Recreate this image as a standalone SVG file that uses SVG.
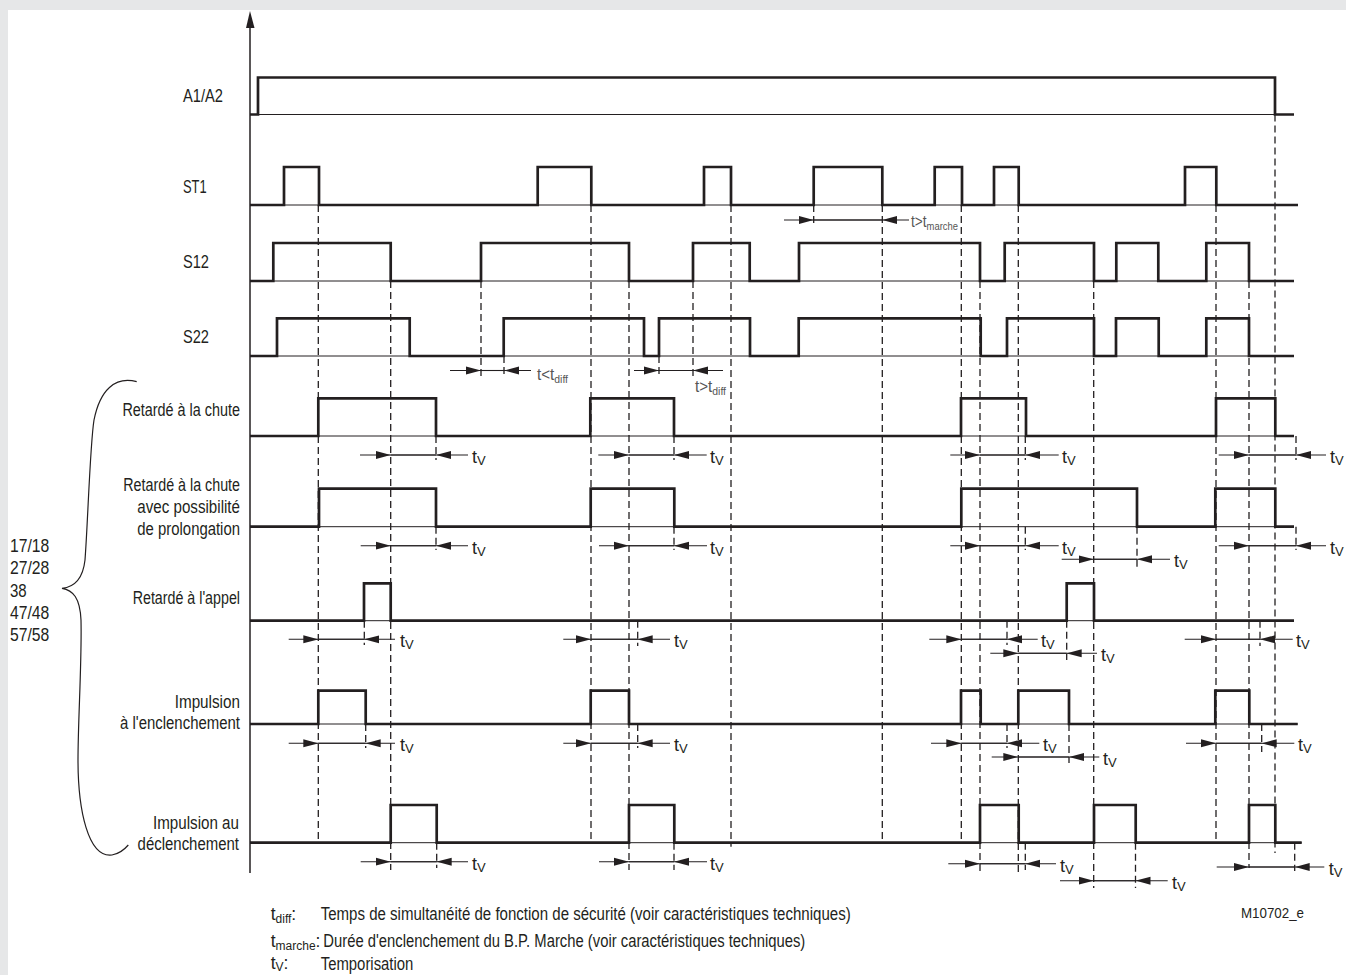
<svg xmlns="http://www.w3.org/2000/svg" width="1346" height="975" viewBox="0 0 1346 975">
<style>
.sig{fill:none;stroke:#231f20;stroke-width:2.7;stroke-linejoin:miter}
.base{fill:none;stroke:#231f20;stroke-width:1}
.dash{fill:none;stroke:#231f20;stroke-width:1.3;stroke-dasharray:7 4}
.dim{fill:none;stroke:#231f20;stroke-width:1.1}
.tip{fill:none;stroke:#231f20;stroke-width:1.1;marker-start:url(#ah);marker-end:url(#ah)}
.lbl{font-family:"Liberation Sans Narrow","Liberation Sans",Arial,sans-serif;font-size:17.5px;fill:#231f20}
.tv{font-family:"Liberation Sans",Arial,sans-serif;font-size:18px;fill:#231f20}
.tvs{font-size:13px}
.cond{font-family:"Liberation Sans Narrow","Liberation Sans",Arial,sans-serif;font-size:16px;fill:#555}
.csub{font-size:11px}
.leg{font-family:"Liberation Sans Narrow","Liberation Sans",Arial,sans-serif;font-size:17.5px;fill:#231f20}
.lsub{font-size:12px}
</style>
<defs>
<marker id="ah" viewBox="0 0 15 9" refX="0" refY="4.5" markerWidth="15" markerHeight="9" markerUnits="userSpaceOnUse" orient="auto-start-reverse"><path d="M0,4.5 L15,0.5 L15,8.5 z" fill="#231f20"/></marker>
</defs>
<rect x="0" y="0" width="1346" height="975" fill="#e6e7e8"/>
<rect x="8" y="10" width="1338" height="965" fill="#ffffff"/>

<g id="axis">
<line x1="250" y1="26" x2="250" y2="873" stroke="#231f20" stroke-width="1.5"/>
<polygon points="250,11 246,28 254.5,28" fill="#231f20"/>
</g>

<g id="row-A1A2">
<text class="lbl" x="183" y="102" textLength="40" lengthAdjust="spacingAndGlyphs">A1/A2</text>
<path class="base" d="M250,114.5 H1294"/>
<path class="sig" d="M250,114.5 H258 V77.5 H1275 V114.5 H1294"/>
</g>

<g id="row-ST1">
<text class="lbl" x="183" y="193" textLength="23.7" lengthAdjust="spacingAndGlyphs">ST1</text>
<path class="base" d="M250,205 H1298"/>
<path class="sig" d="M250,205 H284 V167 H319 V205 H537.7 V167 H591.3 V205 H704 V167 H731 V205 H813.7 V167 H882.3 V205 H934.7 V167 H962 V205 H994 V167 H1018.7 V205 H1185 V167 H1216.3 V205 H1298"/>
</g>

<g id="row-S12">
<text class="lbl" x="183" y="268" textLength="26" lengthAdjust="spacingAndGlyphs">S12</text>
<path class="base" d="M250,281 H1294"/>
<path class="sig" d="M250,281 H273.3 V243 H390.7 V281 H481 V243 H629 V281 H693 V243 H749.7 V281 H799 V243 H980 V281 H1004.7 V243 H1094 V281 H1116.3 V243 H1158.3 V281 H1206.3 V243 H1249 V281 H1294"/>
</g>

<g id="row-S22">
<text class="lbl" x="183" y="343" textLength="26" lengthAdjust="spacingAndGlyphs">S22</text>
<path class="base" d="M250,356 H1294"/>
<path class="sig" d="M250,356 H277 V318.3 H409.7 V356 H503.7 V318.3 H644 V356 H659 V318.3 H750 V356 H798.7 V318.3 H980.7 V356 H1007 V318.3 H1094 V356 H1116 V318.3 H1158.7 V356 H1206.3 V318.3 H1249 V356 H1294"/>
</g>

<g id="row-retarde-chute">
<text class="lbl" x="240" y="416" text-anchor="end" textLength="117.6" lengthAdjust="spacingAndGlyphs">Retardé à la chute</text>
<path class="base" d="M250,436 H1294"/>
<path class="sig" d="M250,436 H318.3 V398.3 H436 V436 H590.3 V398.3 H674 V436 H961 V398.3 H1026 V436 H1216 V398.3 H1275.3 V436 H1294"/>
</g>

<g id="row-retarde-prolongation">
<text class="lbl" x="240" y="490.7" text-anchor="end" textLength="116.7" lengthAdjust="spacingAndGlyphs">Retardé à la chute</text>
<text class="lbl" x="240" y="513.3" text-anchor="end" textLength="102.7" lengthAdjust="spacingAndGlyphs">avec possibilité</text>
<text class="lbl" x="240" y="534.5" text-anchor="end" textLength="102.7" lengthAdjust="spacingAndGlyphs">de prolongation</text>
<path class="base" d="M250,526.7 H1294"/>
<path class="sig" d="M250,526.7 H319 V488.7 H436 V526.7 H590.7 V488.7 H674.3 V526.7 H961.3 V488.7 H1137 V526.7 H1215.3 V488.7 H1275.3 V526.7 H1294"/>
</g>

<g id="row-retarde-appel">
<text class="lbl" x="240" y="604" text-anchor="end" textLength="107.3" lengthAdjust="spacingAndGlyphs">Retardé à l'appel</text>
<path class="base" d="M250,620.7 H1294"/>
<path class="sig" d="M250,620.7 H364 V583.3 H390.7 V620.7 H1066.7 V583.3 H1094 V620.7 H1294"/>
</g>

<g id="row-impulsion-enclenchement">
<text class="lbl" x="240" y="708.3" text-anchor="end" textLength="65.3" lengthAdjust="spacingAndGlyphs">Impulsion</text>
<text class="lbl" x="240" y="729.3" text-anchor="end" textLength="120" lengthAdjust="spacingAndGlyphs">à l'enclenchement</text>
<path class="base" d="M250,724 H1297.7"/>
<path class="sig" d="M250,724 H318.3 V690.7 H365.7 V724 H590.7 V690.7 H629 V724 H961 V690.7 H980.7 V724 H1018.3 V690.7 H1069 V724 H1215.3 V690.7 H1249.3 V724 H1297.7"/>
</g>

<g id="row-impulsion-declenchement">
<text class="lbl" x="239" y="829.3" text-anchor="end" textLength="86" lengthAdjust="spacingAndGlyphs">Impulsion au</text>
<text class="lbl" x="239" y="850" text-anchor="end" textLength="101.4" lengthAdjust="spacingAndGlyphs">déclenchement</text>
<path class="base" d="M250,842.7 H1301.7"/>
<path class="sig" d="M250,842.7 H390.7 V805 H436.7 V842.7 H629 V805 H674.3 V842.7 H980 V805 H1018.7 V842.7 H1094 V805 H1135.7 V842.7 H1249 V805 H1275.3 V842.7 H1301.7"/>
</g>

<g id="brace-contacts">
<path d="M136.7,381.7 C115,376 100,390 94,420 C90,445 88,520 85,560 C83,578 75,587 62,588.3 C73,590 80,598 81,620 C82,660 78,720 78,760 C78,810 88,858 112,855 C118,854 124,850 128.3,845" fill="none" stroke="#231f20" stroke-width="1.2"/>
<text class="lbl" x="10" y="551.7" textLength="39.3" lengthAdjust="spacingAndGlyphs">17/18</text>
<text class="lbl" x="10" y="574" textLength="39.3" lengthAdjust="spacingAndGlyphs">27/28</text>
<text class="lbl" x="10" y="596.7" textLength="16.7" lengthAdjust="spacingAndGlyphs">38</text>
<text class="lbl" x="10" y="618.7" textLength="39.3" lengthAdjust="spacingAndGlyphs">47/48</text>
<text class="lbl" x="10" y="641" textLength="39.3" lengthAdjust="spacingAndGlyphs">57/58</text>
</g>

<g id="connectors">
<path class="dash" d="M318.3,205 V842.7 M390.7,281 V870 M481,281 V378 M504,356 V378 M591,205 V842.7 M629,281 V870 M659,356 V378 M693,281 V380 M731,205 V846.7 M813.7,205 V227 M882.3,205 V842.7 M961.3,205 V842.7 M980,281 V872 M1018.3,205 V872 M1093.7,281 V888 M1216,205 V842.7 M1249,281 V868 M1275,114.5 V853"/>
<path class="dash" d="M436,436 V460 M436,526.7 V550 M436.7,842.7 V868 M674,436 V460 M674,526.7 V550 M674,842.7 V870 M364.3,620.7 V645 M365.7,724 V748 M637.7,620.7 V646 M637.7,724 V748 M1025.3,436 V460 M1025.3,526.7 V550 M1025.3,842.7 V870 M1007,620.7 V645 M1007,724 V748 M1066.7,620.7 V660 M1069,724 V763 M1137,526.7 V568 M1135.5,842.7 V888 M1296,436 V460 M1296,526.7 V550 M1260,620.7 V646 M1261.7,724 V752 M1294.7,842.7 V871"/>

<path class="dim" d="M450,370.5 H531"/><path class="tip" d="M481,370.5 H504"/>
<text class="cond" x="537" y="380" textLength="31" lengthAdjust="spacingAndGlyphs">t&lt;t<tspan class="csub" dy="3">diff</tspan></text>
<path class="dim" d="M634,370.5 H723"/><path class="tip" d="M659,370.5 H693"/>
<text class="cond" x="695" y="391.5" textLength="31" lengthAdjust="spacingAndGlyphs">t&gt;t<tspan class="csub" dy="3">diff</tspan></text>
<path class="dim" d="M784,220 H909"/><path class="tip" d="M813.7,220 H882.3"/>
<text class="cond" x="911" y="227" textLength="47" lengthAdjust="spacingAndGlyphs">t&gt;t<tspan class="csub" dy="3">marche</tspan></text>

<path class="dim" d="M360,455 H468"/><path class="tip" d="M390.7,455 H436"/>
<text class="tv" x="472" y="463">t<tspan class="tvs" dy="2">V</tspan></text>
<path class="dim" d="M598.3,455 H706.7"/><path class="tip" d="M629,455 H674"/>
<text class="tv" x="710" y="463">t<tspan class="tvs" dy="2">V</tspan></text>
<path class="dim" d="M950.3,455 H1058.7"/><path class="tip" d="M980,455 H1025.3"/>
<text class="tv" x="1062" y="463">t<tspan class="tvs" dy="2">V</tspan></text>
<path class="dim" d="M1218.7,455 H1326"/><path class="tip" d="M1249,455 H1296"/>
<text class="tv" x="1330" y="463">t<tspan class="tvs" dy="2">V</tspan></text>

<path class="dim" d="M360.7,545.7 H468"/><path class="tip" d="M390.7,545.7 H436"/>
<text class="tv" x="472" y="553.7">t<tspan class="tvs" dy="2">V</tspan></text>
<path class="dim" d="M599,545.7 H707"/><path class="tip" d="M629,545.7 H674"/>
<text class="tv" x="710" y="553.7">t<tspan class="tvs" dy="2">V</tspan></text>
<path class="dim" d="M950.3,545.7 H1058.7"/><path class="tip" d="M980,545.7 H1025.3"/>
<text class="tv" x="1062" y="553.7">t<tspan class="tvs" dy="2">V</tspan></text>
<path class="dim" d="M1061.7,559.3 H1170"/><path class="tip" d="M1093.7,559.3 H1137"/>
<text class="tv" x="1174" y="567.3">t<tspan class="tvs" dy="2">V</tspan></text>
<path class="dim" d="M1218.7,545.7 H1326"/><path class="tip" d="M1249,545.7 H1296"/>
<text class="tv" x="1330" y="553.7">t<tspan class="tvs" dy="2">V</tspan></text>

<path class="dim" d="M288.7,639.3 H395"/><path class="tip" d="M318.3,639.3 H364.3"/>
<text class="tv" x="400" y="647.3">t<tspan class="tvs" dy="2">V</tspan></text>
<path class="dim" d="M563.3,639.3 H670"/><path class="tip" d="M591,639.3 H637.7"/>
<text class="tv" x="674" y="647.3">t<tspan class="tvs" dy="2">V</tspan></text>
<path class="dim" d="M929.3,639.3 H1037.7"/><path class="tip" d="M961.3,639.3 H1007"/>
<text class="tv" x="1041" y="647.3">t<tspan class="tvs" dy="2">V</tspan></text>
<path class="dim" d="M990.3,653.3 H1097"/><path class="tip" d="M1018.3,653.3 H1066.7"/>
<text class="tv" x="1101" y="661.3">t<tspan class="tvs" dy="2">V</tspan></text>
<path class="dim" d="M1184.7,639.3 H1292.7"/><path class="tip" d="M1216,639.3 H1260"/>
<text class="tv" x="1296" y="647.3">t<tspan class="tvs" dy="2">V</tspan></text>

<path class="dim" d="M288.7,743.3 H395"/><path class="tip" d="M318.3,743.3 H365.7"/>
<text class="tv" x="400" y="751.3">t<tspan class="tvs" dy="2">V</tspan></text>
<path class="dim" d="M563.3,743.3 H670"/><path class="tip" d="M591,743.3 H637.7"/>
<text class="tv" x="674" y="751.3">t<tspan class="tvs" dy="2">V</tspan></text>
<path class="dim" d="M931,743.3 H1039.3"/><path class="tip" d="M961.3,743.3 H1007"/>
<text class="tv" x="1043" y="751.3">t<tspan class="tvs" dy="2">V</tspan></text>
<path class="dim" d="M991.7,757 H1099.3"/><path class="tip" d="M1018.3,757 H1069"/>
<text class="tv" x="1103" y="765">t<tspan class="tvs" dy="2">V</tspan></text>
<path class="dim" d="M1186,743.3 H1294.3"/><path class="tip" d="M1216,743.3 H1261.7"/>
<text class="tv" x="1298" y="751.3">t<tspan class="tvs" dy="2">V</tspan></text>

<path class="dim" d="M360.7,861.7 H468"/><path class="tip" d="M390.7,861.7 H436.7"/>
<text class="tv" x="472" y="869.7">t<tspan class="tvs" dy="2">V</tspan></text>
<path class="dim" d="M599,861.7 H707"/><path class="tip" d="M629,861.7 H674"/>
<text class="tv" x="710" y="869.7">t<tspan class="tvs" dy="2">V</tspan></text>
<path class="dim" d="M948.3,863.7 H1056"/><path class="tip" d="M980,863.7 H1025.3"/>
<text class="tv" x="1060" y="871.7">t<tspan class="tvs" dy="2">V</tspan></text>
<path class="dim" d="M1060,880.7 H1167.7"/><path class="tip" d="M1093.7,880.7 H1135.5"/>
<text class="tv" x="1172" y="888.7">t<tspan class="tvs" dy="2">V</tspan></text>
<path class="dim" d="M1216.7,867 H1324.3"/><path class="tip" d="M1249,867 H1294.7"/>
<text class="tv" x="1328.7" y="875">t<tspan class="tvs" dy="2">V</tspan></text>
</g>

<g id="legend">
<text class="leg" x="270.7" y="919.5">t<tspan class="lsub" dy="3">diff</tspan><tspan dy="-3">:</tspan></text>
<text class="leg" x="320.7" y="919.5" textLength="530" lengthAdjust="spacingAndGlyphs">Temps de simultanéité de fonction de sécurité (voir caractéristiques techniques)</text>
<text class="leg" x="270.7" y="946.5">t<tspan class="lsub" dy="3">marche</tspan><tspan dy="-3">:</tspan></text>
<text class="leg" x="323.3" y="946.5" textLength="482" lengthAdjust="spacingAndGlyphs">Durée d'enclenchement du B.P. Marche (voir caractéristiques techniques)</text>
<text class="leg" x="270.7" y="968.5">t<tspan class="lsub" dy="2">V</tspan><tspan dy="-2">:</tspan></text>
<text class="leg" x="320.7" y="969.5" textLength="92.7" lengthAdjust="spacingAndGlyphs">Temporisation</text>
<text class="leg" x="1241" y="918.3" textLength="63" lengthAdjust="spacingAndGlyphs" style="font-size:14.5px">M10702_e</text>
</g>
</svg>
